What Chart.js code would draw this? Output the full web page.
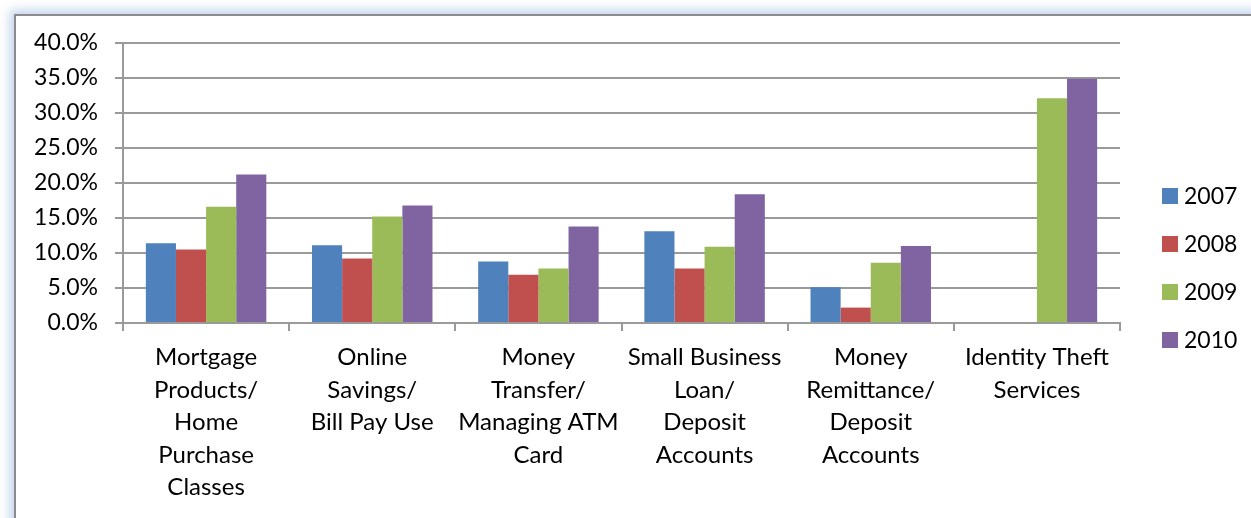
<!DOCTYPE html>
<html>
<head>
<meta charset="utf-8">
<script src="https://cdn.jsdelivr.net/npm/chart.js@4.4.1/dist/chart.umd.min.js"></script>
<style>
  html, body { margin: 0; padding: 0; background: #fff; width: 1251px; height: 518px; overflow: hidden; }
  #frame { position: absolute; left: 14px; top: 14px; width: 1260px; height: 540px; border: 2px solid #8c8c8c; background: #fff;
           box-shadow: 0 0 10px 4px rgba(120,160,215,0.45); }
  #c { position: absolute; left: 0; top: 0; }
</style>
</head>
<body>
<div id="frame"></div>
<canvas id="c" width="1251" height="518"></canvas>
<script>
const categories = [
  ["Mortgage", "Products/", "Home", "Purchase", "Classes"],
  ["Online", "Savings/", "Bill Pay Use"],
  ["Money", "Transfer/", "Managing ATM", "Card"],
  ["Small Business", "Loan/", "Deposit", "Accounts"],
  ["Money", "Remittance/", "Deposit", "Accounts"],
  ["Identity Theft", "Services"]
];
const seriesNames = ["2007", "2008", "2009", "2010"];
const values2007 = [11.4, 11.1, 8.8, 13.1, 5.1, null];
const values2008 = [10.5, 9.2, 6.9, 7.8, 2.2, null];
const values2009 = [16.6, 15.2, 7.8, 10.9, 8.6, 32.1];
const values2010 = [21.2, 16.8, 13.8, 18.4, 11.0, 34.9];
const yTicks = [0, 5, 10, 15, 20, 25, 30, 35, 40];

const colors = ["#4F81BD", "#C0504D", "#9BBB59", "#8064A2"];
const allValues = [values2007, values2008, values2009, values2010];

const PLOT_LEFT = 123, PLOT_RIGHT = 1120, PLOT_TOP = 43, PLOT_BOTTOM = 323;
const W = 1251, H = 518;
const FONT = "Lato, 'Open Sans', sans-serif";

const legendPlugin = {
  id: 'sideLegend',
  afterDraw(chart) {
    const ctx = chart.ctx;
    ctx.save();
    ctx.font = "23px " + FONT;
    ctx.textBaseline = 'middle';
    ctx.textAlign = 'left';
    chart.data.datasets.forEach((ds, i) => {
      const cy = 196 + i * 48;
      ctx.fillStyle = ds.backgroundColor;
      ctx.fillRect(1162, cy - 8, 16, 16);
      ctx.fillStyle = '#000';
      ctx.fillText(ds.label, 1184, cy + 1);
    });
    ctx.restore();
  }
};

new Chart(document.getElementById('c'), {
  type: 'bar',
  data: {
    labels: categories,
    datasets: seriesNames.map((n, i) => ({
      label: n,
      data: allValues[i],
      backgroundColor: colors[i],
      borderWidth: 0,
      barPercentage: 1.0,
      categoryPercentage: 0.725
    }))
  },
  options: {
    responsive: false,
    animation: false,
    devicePixelRatio: 1,
    layout: { padding: { left: 0, top: PLOT_TOP, right: W - PLOT_RIGHT, bottom: 0 } },
    plugins: { legend: { display: false }, tooltip: { enabled: false } },
    scales: {
      x: {
        offset: true,
        grid: { offset: true, drawOnChartArea: false, drawTicks: true, tickLength: 8, color: '#9a9a9a', lineWidth: 2 },
        border: { display: true, color: '#9a9a9a', width: 2 },
        ticks: { color: '#000', font: { family: FONT, size: 24, lineHeight: 1.355 }, padding: 10, maxRotation: 0, autoSkip: false },
        afterFit(scale) { scale.height = H - PLOT_BOTTOM; }
      },
      y: {
        min: 0, max: 40,
        afterBuildTicks(scale) { scale.ticks = yTicks.map(v => ({ value: v })); },
        grid: { color: '#9a9a9a', lineWidth: 2, drawTicks: true, tickLength: 8 },
        border: { display: true, color: '#9a9a9a', width: 2 },
        ticks: { color: '#000', font: { family: FONT, size: 23 }, padding: 17,
                 callback: v => v.toFixed(1) + '%' },
        afterFit(scale) { scale.width = PLOT_LEFT; }
      }
    }
  },
  plugins: [legendPlugin]
});
</script>
</body>
</html>
